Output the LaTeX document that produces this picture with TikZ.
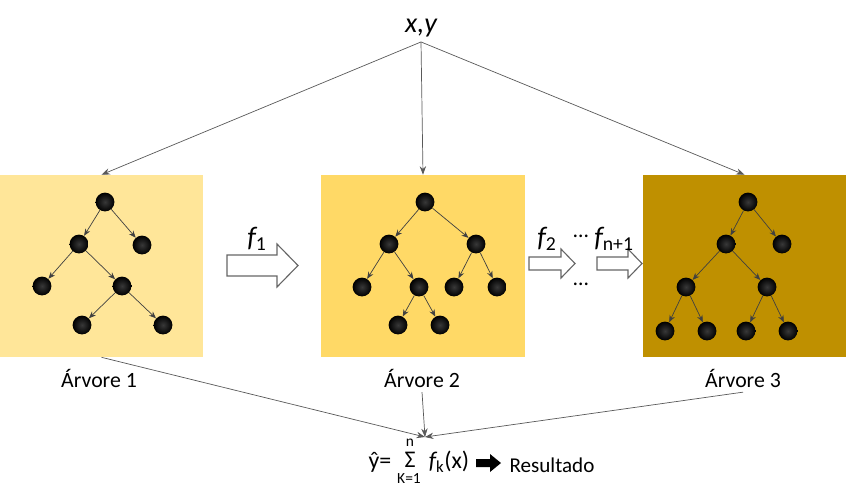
\documentclass[tikz,border=0pt]{standalone}
\usepackage{fontspec}
\setmainfont{Carlito}
\usetikzlibrary{arrows.meta}
\definecolor{light}{HTML}{FFE699}
\definecolor{mid}{HTML}{FFD966}
\definecolor{dark}{HTML}{BF9000}
\tikzstyle{N}=[circle,inner sep=0pt,minimum size=0.47cm,shading=radial,inner color=black!78,outer color=black]
\tikzstyle{E}=[draw=black!75,line width=0.5pt,-{Stealth[length=5pt,width=4pt]}]
\tikzstyle{L}=[draw=black!65,line width=0.5pt,-{Stealth[length=6pt,width=4.5pt]}]
\tikzstyle{BOX}=[minimum width=5.075cm,minimum height=4.55cm,inner sep=0pt]
\tikzstyle{BA}=[draw=black!60,fill=white,line width=0.8pt]
\tikzstyle{T}=[font=\fontsize{15.5}{18}\selectfont]
\tikzstyle{F}=[font=\fontsize{20}{24}\selectfont]

\begin{document}
\begin{tikzpicture}[x=0.025cm,y=-0.025cm]
    \useasboundingbox (0,0) rectangle (846,496);

    % input
    \node[F] (xy) at (421,28) {\itshape x,y};

    % boxes
    \node[BOX,fill=light] (t1) at (101.5,266) {};
    \node[BOX,fill=mid] (t2) at (423,266) {};
    \node[BOX,fill=dark] (t3) at (744.5,266) {};
    \node[T] (a1) at (99,378) {Árvore 1};
    \node[T] (a2) at (422,378) {Árvore 2};
    \node[T] (a3) at (743,378) {Árvore 3};

    \draw[L] (xy.south) -- (t1.north);
    \draw[L] (xy.south) -- (t2.north);
    \draw[L] (xy.south) -- (t3.north);

    % tree 1
    \node[N] (p0) at (105,202) {};
    \node[N] (p1) at (79,244) {};
    \node[N] (p2) at (142,245) {};
    \node[N] (p3) at (42,286) {};
    \node[N] (p4) at (122,286) {};
    \node[N] (p5) at (82,325) {};
    \node[N] (p6) at (163,325) {};
    \foreach \s/\d in {p0/p1,p0/p2,p1/p3,p1/p4,p4/p5,p4/p6}
        \draw[E] (\s) -- (\d);

    % tree 2
    \node[N] (q0) at (425,202) {};
    \node[N] (q1) at (389,244) {};
    \node[N] (q2) at (476,244) {};
    \node[N] (q3) at (362,287) {};
    \node[N] (q4) at (419,287) {};
    \node[N] (q5) at (454,287) {};
    \node[N] (q6) at (497,287) {};
    \node[N] (q7) at (398,325) {};
    \node[N] (q8) at (440,325) {};
    \foreach \s/\d in {q0/q1,q0/q2,q1/q3,q1/q4,q2/q5,q2/q6,q4/q7,q4/q8}
        \draw[E] (\s) -- (\d);

    % tree 3
    \node[N] (r0) at (748,202) {};
    \node[N] (r1) at (726,244) {};
    \node[N] (r2) at (782,244) {};
    \node[N] (r3) at (686,287) {};
    \node[N] (r4) at (767,287) {};
    \node[N] (r5) at (665,331) {};
    \node[N] (r6) at (707,331) {};
    \node[N] (r7) at (746,331) {};
    \node[N] (r8) at (788,331) {};
    \foreach \s/\d in {r0/r1,r0/r2,r1/r3,r1/r4,r3/r5,r3/r6,r4/r7,r4/r8}
        \draw[E] (\s) -- (\d);

    % boosting steps
    \draw[BA] (227,255) -- (277,255) -- (277,244) -- (298,265.5) -- (277,287) -- (277,276) -- (227,276) -- cycle;
    \draw[BA] (529,257) -- (561,257) -- (561,249) -- (575,263.5) -- (561,278) -- (561,270) -- (529,270) -- cycle;
    \draw[BA] (597,257) -- (628,257) -- (628,249) -- (642,263.5) -- (628,278) -- (628,270) -- (597,270) -- cycle;
    \node[F] (f1) at (257,239) {\itshape f\textsubscript{\upshape 1}};
    \node[F] (f2) at (547,239) {\itshape f\textsubscript{\upshape 2}};
    \node[F] (fn) at (614,239) {\itshape f\textsubscript{\upshape n+1}};
    \node[T] (d1) at (581,236) {…};
    \node[T] (d2) at (581,284) {…};

    % result
    \coordinate (s) at (425,437);
    \draw[L] (t1.south) -- (s);
    \draw[L] (a2.south) -- (s);
    \draw[L] (a3.south) -- (s);
    \node[font=\fontsize{17}{20}\selectfont] (yh) at (380,462) {ŷ=};
    \node[font=\fontsize{17}{20}\selectfont] (sig) at (410,460) {Σ};
    \node[font=\fontsize{11}{13}\selectfont] (n) at (410,443) {n};
    \node[font=\fontsize{11}{13}\selectfont] (k) at (409,479) {K=1};
    \node[font=\fontsize{17}{20}\selectfont] (fk) at (449,462) {{\itshape f}\textsubscript{k}(x)};
    \fill (476,459) -- (490,459) -- (490,454) -- (501,463) -- (490,472) -- (490,467) -- (476,467) -- cycle;
    \node[font=\fontsize{15}{18}\selectfont] (res) at (552,465) {Resultado};
\end{tikzpicture}
\end{document}
